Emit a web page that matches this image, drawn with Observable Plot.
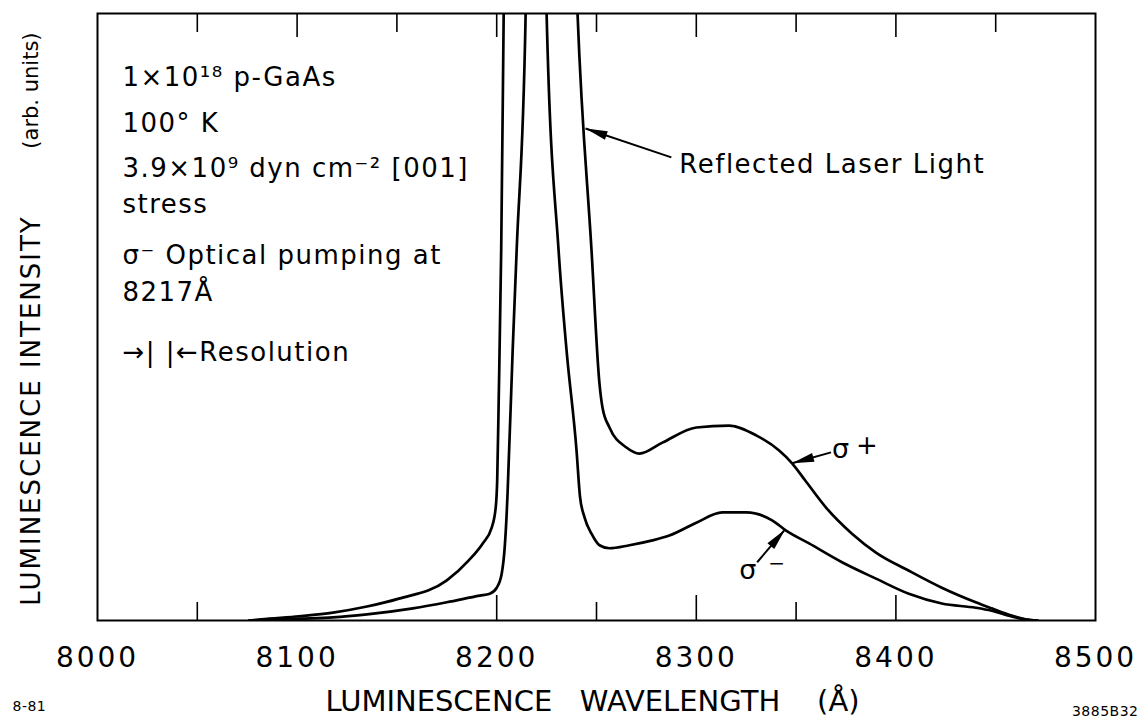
<!DOCTYPE html>
<html>
<head>
<meta charset="utf-8">
<script src="https://cdn.jsdelivr.net/npm/d3@7"></script>
<script src="https://cdn.jsdelivr.net/npm/@observablehq/plot@0.6"></script>
<style>
  html, body { margin: 0; padding: 0; background: #fff; }
  #chart svg { display: block; }
  #chart svg text { white-space: pre; letter-spacing: 1.5px; }
  #chart g[aria-label="x-axis tick label"] text { letter-spacing: 3px; }
  #chart text[aria-label="x-title"] { letter-spacing: 0px; }
  #chart text[aria-label="y-title"] { letter-spacing: 2px; }
  #chart text[aria-label="y-units"] { letter-spacing: 0px; }
  #chart text[aria-label="footnote"] { letter-spacing: 0.5px; }
</style>
</head>
<body>
<div id="chart"></div>
<script>
// ---- data (wavelength in Å, intensity in arbitrary units, 0–100 = frame height) ----
const sigmaPlusWavelength = [8076, 8082, 8101, 8118, 8135, 8151, 8175, 8186, 8193, 8197.5, 8199.5, 8200.25, 8201, 8202.25, 8203.5, 8222,
  8240.5, 8247.5, 8251.5, 8253, 8256.5, 8265, 8271.5, 8283, 8300, 8316.5, 8330, 8341.5, 8348, 8354.5, 8365, 8378, 8390, 8406.5, 8423, 8440, 8448, 8458, 8465, 8471];
const sigmaPlusIntensity = [0, 0.2, 0.7, 1.3, 2.3, 3.6, 6.6, 9.9, 12.7, 15.3, 18.6, 23.1, 36.2, 61, 100, 400,
  100, 61, 39, 35.1, 31.8, 28.5, 27.5, 29.3, 31.8, 32.1, 30.5, 28.0, 25.9, 23.1, 18.6, 14.3, 11.2, 8.2, 5.4, 3.0, 2.0, 0.8, 0.2, 0];

const sigmaMinusWavelength = [8076, 8101, 8118, 8135, 8158, 8175, 8191.5, 8196.5, 8200, 8202.5, 8204, 8205, 8205.5, 8208, 8210, 8214.5, 8220,
  8225, 8231, 8235, 8240, 8241.7, 8244, 8247.5, 8251.5, 8256.5, 8266.5, 8278, 8286.5, 8300, 8313, 8325, 8338, 8345, 8356.5, 8373, 8390, 8406.5, 8423, 8440, 8448, 8458, 8465, 8471];
const sigmaMinusIntensity = [0, 0.3, 0.5, 1.0, 2.0, 3.0, 4.1, 4.4, 5.4, 7.7, 12.0, 17.6, 21.4, 44.5, 61, 100, 400,
  100, 61, 44.5, 28, 20.5, 17.0, 14.3, 12.4, 11.9, 12.4, 13.2, 14.0, 16.1, 17.8, 17.8, 16.5, 14.8, 12.7, 9.6, 6.9, 4.4, 2.8, 2.1, 1.6, 0.66, 0.16, 0];

const xTickLabels = [8000, 8100, 8200, 8300, 8400, 8500];
const topMajorTicks = [8100, 8200, 8300, 8400];
const topMinorTicks = [8050, 8150, 8250, 8350, 8450];
const bottomMajorTicks = [8200, 8300, 8400];
const bottomMinorTicks = [8050, 8250, 8350];

const infoLines = ["1×10¹⁸ p-GaAs", "100° K", "3.9×10⁹ dyn cm⁻² [001]", "stress", "σ⁻ Optical pumping at", "8217Å", "→| |←Resolution"];
const infoLevels = [88.0, 80.4, 73.0, 67.2, 58.8, 52.7, 42.8];
const infoWavelength = 8012.5;

const labelTexts = ["Reflected Laser Light", "σ", "+", "σ", "−"];
const labelWavelengths = [8291.5, 8368, 8380, 8321.5, 8336];
const labelLevels = [73.8, 26.85, 27.5, 6.9, 8.3];
const labelSizes = [26, 27, 26, 27, 20];

const arrowFromWavelength = [8287.5, 8367.5, 8330.5];
const arrowFromLevel = [76.3, 27.7, 9.6];
const arrowToWavelength = [8244.5, 8348, 8344.5];
const arrowToLevel = [81.05, 25.9, 15.0];

// ---- tables built from arrays ----
const sigmaPlus = sigmaPlusWavelength.map((w, i) => ({wavelength: w, intensity: sigmaPlusIntensity[i]}));
const sigmaMinus = sigmaMinusWavelength.map((w, i) => ({wavelength: w, intensity: sigmaMinusIntensity[i]}));
const info = infoLines.map((t, i) => ({text: t, x: infoWavelength, y: infoLevels[i]}));
const labels = labelTexts.map((t, i) => ({text: t, x: labelWavelengths[i], y: labelLevels[i], size: labelSizes[i]}));
const arrows = arrowFromWavelength.map((x1, i) => ({x1, y1: arrowFromLevel[i], x2: arrowToWavelength[i], y2: arrowToLevel[i]}));

const W = 1144, H = 722, mL = 97, mR = 49, mT = 13, mB = 102;
const xDomain = [8000, 8500], yDomain = [0, 100];
const kx = (W - mL - mR) / (xDomain[1] - xDomain[0]);
const ky = (H - mT - mB) / (yDomain[1] - yDomain[0]);
const arrowHead = {
  draw(ctx) { ctx.moveTo(0, 0); ctx.lineTo(4.5, 22); ctx.lineTo(-4.5, 22); ctx.closePath(); }
};
const headAngle = d => Math.atan2((d.x2 - d.x1) * kx, (d.y2 - d.y1) * ky) * 180 / Math.PI;

const font = "DejaVu Sans";
const fh = H - mT - mB;
const tag = name => () => name;

const chart = Plot.plot({
  width: W, height: H,
  marginLeft: mL, marginRight: mR, marginTop: mT, marginBottom: mB,
  style: {fontFamily: font, color: "black", background: "white"},
  x: {domain: xDomain},
  y: {domain: yDomain, axis: null},
  marks: [
    Plot.frame({stroke: "black", strokeWidth: 2}),
    Plot.tickX(topMajorTicks, {x: d => d, insetBottom: fh - 24, stroke: "black", strokeWidth: 1.6}),
    Plot.tickX(topMinorTicks, {x: d => d, insetBottom: fh - 19, stroke: "black", strokeWidth: 1.6}),
    Plot.tickX(bottomMajorTicks, {x: d => d, insetTop: fh - 25, stroke: "black", strokeWidth: 1.6}),
    Plot.tickX(bottomMinorTicks, {x: d => d, insetTop: fh - 18, stroke: "black", strokeWidth: 1.6}),
    Plot.axisX(xTickLabels, {anchor: "bottom", tickSize: 0, tickPadding: 27, fontSize: 28, tickFormat: d => String(d), label: null}),
    Plot.line(sigmaPlus, {x: "wavelength", y: "intensity", curve: "monotone-x", stroke: "black", strokeWidth: 2.7, clip: true}),
    Plot.line(sigmaMinus, {x: "wavelength", y: "intensity", curve: "monotone-x", stroke: "black", strokeWidth: 2.7, clip: true}),
    Plot.text(info, {x: "x", y: "y", text: "text", textAnchor: "start", lineAnchor: "bottom", fontSize: 26, fill: "black"}),
    Plot.text(labels, {x: "x", y: "y", text: "text", textAnchor: "start", lineAnchor: "bottom", fontSize: d => d.size, fill: "black"}),
    Plot.link(arrows, {x1: "x1", y1: "y1", x2: "x2", y2: "y2", stroke: "black", strokeWidth: 2}),
    Plot.dot(arrows, {x: "x2", y: "y2", symbol: arrowHead, rotate: headAngle, fill: "black", stroke: "none", r: 5}),
    Plot.text(["LUMINESCENCE INTENSITY"], {frameAnchor: "left", y: 34.6, dx: -66, rotate: -90, textAnchor: "middle", fontSize: 26, fill: "black", ariaLabel: tag("y-title")}),
    Plot.text(["(arb. units)"], {frameAnchor: "left", y: 87.3, dx: -66, rotate: -90, textAnchor: "middle", fontSize: 21, fill: "black", ariaLabel: tag("y-units")}),
    Plot.text(["LUMINESCENCE   WAVELENGTH    (Å)"], {frameAnchor: "bottom", dy: 90, dx: -4, textAnchor: "middle", lineAnchor: "bottom", fontSize: 29, fill: "black", ariaLabel: tag("x-title")}),
    Plot.text(["8-81"], {frameAnchor: "bottom-left", dx: -85, dy: 90, textAnchor: "start", lineAnchor: "bottom", fontSize: 14, fill: "black", ariaLabel: tag("footnote")}),
    Plot.text(["3885B32"], {frameAnchor: "bottom-right", dx: 43, dy: 95, textAnchor: "end", lineAnchor: "bottom", fontSize: 14, fill: "black", ariaLabel: tag("footnote")})
  ]
});
document.getElementById("chart").appendChild(chart);
</script>
</body>
</html>
